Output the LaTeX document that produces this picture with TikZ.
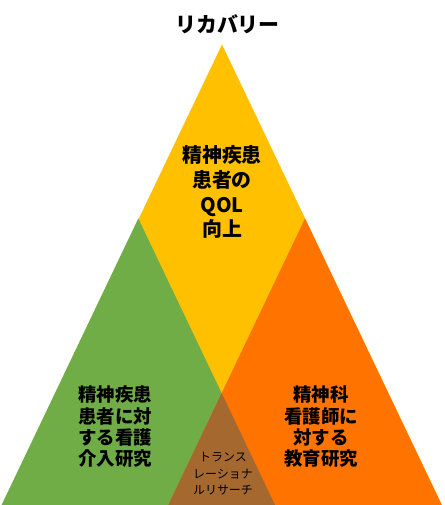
\documentclass[tikz,border=0pt]{standalone}
\usepackage{fontspec}
\newfontfamily\jp{Noto Sans CJK JP}
\definecolor{ygold}{HTML}{FFC000}
\definecolor{ggreen}{HTML}{70AD47}
\definecolor{oorange}{HTML}{FF7300}
\definecolor{bbrown}{HTML}{A5682F}
\tikzset{
  lbl/.style={align=center, inner sep=0pt, text=black},
  big/.style={lbl, font=\jp\bfseries\fontsize{20}{25}\selectfont},
  mid/.style={lbl, font=\jp\bfseries\fontsize{18.5}{21.4}\selectfont},
  small/.style={lbl, font=\jp\fontsize{12}{16.5}\selectfont},
}
\begin{document}
\begin{tikzpicture}[x=1bp,y=-1bp]
\useasboundingbox (0,0) rectangle (445,505);
% big triangle
\fill[ygold] (222,44.5) -- (2,505) -- (442,505) -- cycle;
% green triangle
\fill[ggreen] (138.3,218.5) -- (1.6,505) -- (275,505) -- cycle;
% orange triangle
\fill[oorange] (305,218.5) -- (168.3,505) -- (441.7,505) -- cycle;
% overlap
\fill[bbrown] (221.65,393.2) -- (168.3,505) -- (275,505) -- cycle;
\node[lbl, font=\jp\bfseries\fontsize{21}{24}\selectfont] (title) at (227.5,24) {リカバリー};
\node[big] (qol) at (222,192) {精神疾患\\患者の\\QOL\\向上};
\node[mid] (care) at (115,427) {精神疾患\\患者に対\\する看護\\介入研究};
\node[mid] (edu) at (321,427) {精神科\\看護師に\\対する\\教育研究};
\node[small] (tr) at (223,474) {トランス\\レーショナ\\ルリサーチ};
\end{tikzpicture}
\end{document}
